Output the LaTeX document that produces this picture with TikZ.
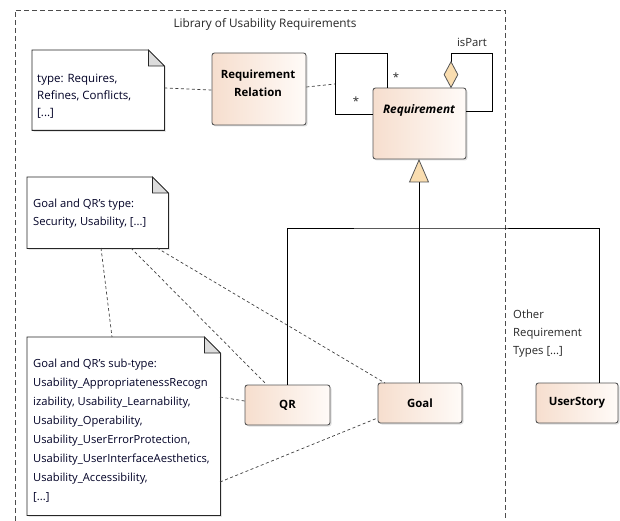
\documentclass[tikz,border=0pt]{standalone}
\usepackage{fontspec}
\setmainfont{Open Sans}
\usetikzlibrary{shadows,calc,shapes.geometric}
\definecolor{peachL}{RGB}{246,222,206}
\definecolor{peachR}{RGB}{255,251,248}
\definecolor{tan}{RGB}{249,221,176}
\definecolor{edge}{RGB}{85,85,85}
\definecolor{notefold}{RGB}{220,220,220}
\tikzset{
  cls/.style={draw=edge, line width=0.9pt, rounded corners=2.5pt, left color=peachL, right color=peachR,
    font=\bfseries\fontsize{11.4}{18}\selectfont, align=center, inner sep=0pt,
    drop shadow={shadow xshift=1.5pt, shadow yshift=-1.5pt, opacity=0.25}},
  clstext/.style={font=\bfseries\fontsize{11.4}{18}\selectfont, align=center, inner sep=0pt},
  notearea/.style={draw=none, inner sep=0pt},
  noteline/.style={draw=black!85, line width=0.8pt, fill=white,
    drop shadow={shadow xshift=1.5pt, shadow yshift=-1.5pt, opacity=0.2}},
  notetext/.style={anchor=north west, align=left, inner sep=0pt, font=\fontsize{11.2}{19}\selectfont, text=black!85!blue},
  frameline/.style={draw=black!70, line width=0.8pt, dash pattern=on 5pt off 3pt},
  tie/.style={draw=black!75, line width=0.7pt, dash pattern=on 3pt off 2.5pt},
  assoc/.style={draw=black, line width=0.7pt},
  lbl/.style={inner sep=0pt, font=\fontsize{11.3}{18}\selectfont, text=black!85, align=left}
}
\newcommand\usnote[5]{%
  \node[notearea, minimum width=#3-#1, minimum height=#4-#2, anchor=north west] (#5) at (#1,#2) {};
  \path[noteline] (#5.north west) -- ($(#5.north east)+(-16,0)$) -- ($(#5.north east)+(0,16)$)
     -- (#5.south east) -- (#5.south west) -- cycle;
  \path[draw=black!85, line width=0.8pt, fill=notefold] ($(#5.north east)+(-16,0)$) -- ($(#5.north east)+(-16,16)$) -- ($(#5.north east)+(0,16)$) -- cycle;
}
\begin{document}
\begin{tikzpicture}[x=1pt,y=-1pt]
\useasboundingbox (0,0) rectangle (620,521);
% frame
\draw[frameline] (15,521) -- (15,10) -- (505,10) -- (505,521);
\node[lbl, font=\fontsize{11.8}{14}\selectfont] (title) at (265,24) {Library of Usability Requirements};

% notes
\usnote{32}{50}{164}{130}{n1}
\node[notetext, font=\fontsize{11.5}{17}\selectfont] (n1t) at (37,74) {type: Requires,\\Refines, Conflicts,\\{}[...]};
\usnote{27}{177}{168}{248}{n2}
\node[notetext, font=\fontsize{11.2}{18}\selectfont] (n2t) at (33,199) {Goal and QR's type:\\Security, Usability, [...]};
\usnote{27}{337}{220}{515}{n3}
\node[notetext] (n3t) at (33,359) {Goal and QR's sub-type:\\Usability\_AppropriatenessRecogn\\izability, Usability\_Learnability,\\Usability\_Operability,\\Usability\_UserErrorProtection,\\Usability\_UserInterfaceAesthetics,\\Usability\_Accessibility,\\{}[...]};

% classes
\node[cls, minimum width=94pt, minimum height=72pt] (rr) at (259,89) {};
\node[clstext] (rrt) at (258,83) {Requirement\\Relation};
\node[cls, minimum width=93pt, minimum height=71pt] (req) at (419.5,123.5) {};
\node[font=\bfseries\itshape\fontsize{11.8}{14}\selectfont, inner sep=0pt] (reqt) at (419,110) {Requirement};
\node[cls, minimum width=85pt, minimum height=40pt] (qr) at (287.5,405) {QR};
\node[cls, minimum width=84pt, minimum height=40pt] (goal) at (420,403) {Goal};
\node[cls, minimum width=82pt, minimum height=40pt] (us) at (577,403) {UserStory};

% association class loop
\coordinate (ac) at (335,84);
\draw[assoc] (387,88) -- (387,53) -- (335,53) -- (335,114) -- (req.west |- 0,114);
\draw[tie] (rr.east |- 0,87) -- (ac);
\draw[tie] (n1.east |- 0,88) -- (rr.west |- 0,90);
\node[lbl] (s1) at (396,77) {*};
\node[lbl] (s2) at (356,101) {*};

% isPart aggregation
\draw[assoc] (451,62) -- (451,53) -- (492,53) -- (492,111) -- (req.east |- 0,111);
\node[diamond, draw=edge, line width=0.8pt, fill=tan, minimum width=14pt, minimum height=26pt, inner sep=0pt, anchor=south] (dia) at (451,88) {};
\node[lbl] (ispart) at (472,42) {isPart};

% generalization
\coordinate (j) at (419,228);
\coordinate (ustop) at (599,383);
\draw[assoc] (419,182) -- (j);
\draw[assoc] (qr.north) -- (qr.north |- j) -- (j) -- (ustop |- j) -- (ustop);
\draw[assoc] (j) -- (goal.north -| j);
\draw[draw=edge, line width=0.8pt, fill=tan] (419,160) -- (428.5,182) -- (409.5,182) -- cycle;

\node[lbl, anchor=north west] (other) at (513,310) {Other\\Requirement\\Types [...]};

% note ties
\draw[tie] (101,248) -- (112,337);
\draw[tie] (131,248) -- (266,384);
\draw[tie] (157,248) -- (385,383);
\draw[tie] (220,397) -- (qr.west |- 0,401);
\draw[tie] (220,482) -- (goal.west |- 0,418);
\end{tikzpicture}
\end{document}
